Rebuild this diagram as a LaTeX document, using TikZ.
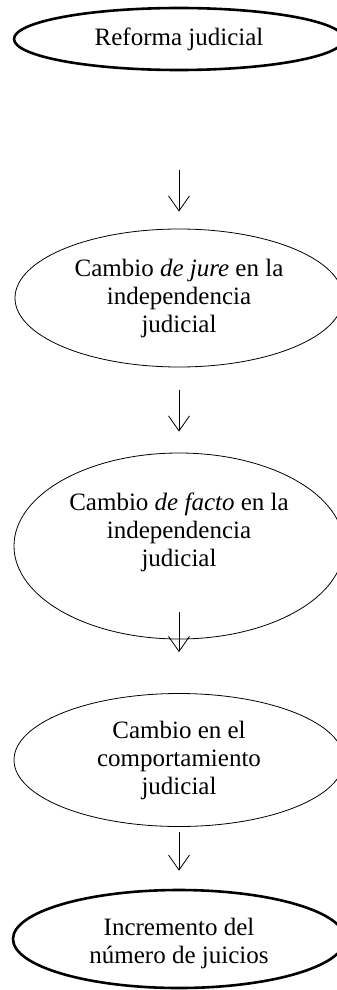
\documentclass[tikz,border=0pt]{standalone}
\usepackage{fontspec}
\setmainfont{Liberation Serif}
\usetikzlibrary{shapes.geometric}
\usetikzlibrary{arrows.meta}

\tikzset{
    stage/.style={draw, ellipse, inner sep=0pt, align=center, line width=0.8pt,
        font=\fontsize{25}{28}\selectfont},
    endstage/.style={stage, line width=2.6pt},
    flow/.style={line width=0.8pt, -{Straight Barb[length=15pt,width=21pt]}}
}

\begin{document}
\begin{tikzpicture}[x=1pt,y=-1pt]
    \useasboundingbox (0,0) rectangle (337,990);

    % Reform at the top
    \node [endstage, minimum width=330pt, minimum height=62pt] (reforma) at (179,39) {Reforma judicial};

    % De jure change
    \node [stage, minimum width=328pt, minimum height=138pt] (jure) at (179,298)
        {Cambio \textit{de jure} en la\\ independencia\\ judicial};

    % De facto change (text sits high)
    \node [stage, minimum width=330pt, minimum height=186pt, text depth=32pt] (facto) at (179,546)
        {Cambio \textit{de facto} en la\\ independencia\\ judicial};

    % Behaviour
    \node [stage, minimum width=330pt, minimum height=133pt] (comport) at (179,760)
        {Cambio en el\\ comportamiento\\ judicial};

    % Outcome (text sits a bit low)
    \node [endstage, minimum width=332pt, minimum height=98pt] (incremento) at (179,939)
        {\rule{0pt}{27pt}Incremento del\\ número de juicios};

    % Arrows
    \draw [flow, shorten <=99pt, shorten >=17pt] (reforma) -- (jure);
    \draw [flow, shorten <=23pt, shorten >=21pt] (jure) -- (facto);
    \draw [flow, shorten <=-27pt, shorten >=41pt] (facto) -- (comport);
    \draw [flow, shorten <=5pt, shorten >=18pt] (comport) -- (incremento);
\end{tikzpicture}
\end{document}
